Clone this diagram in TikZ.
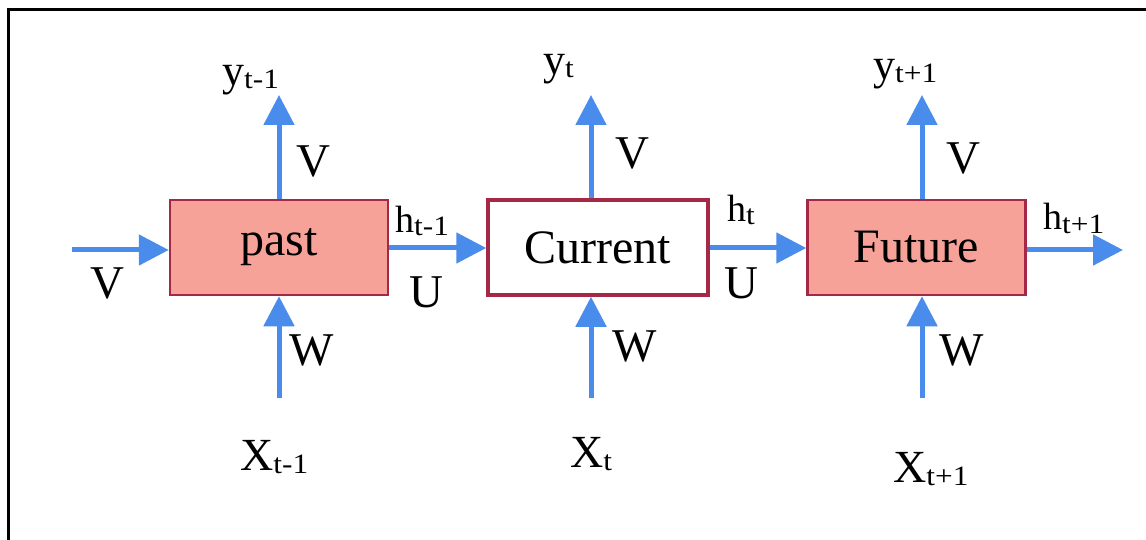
\documentclass[tikz,border=0pt]{standalone}
\usepackage{fontspec}
\usepackage{graphicx}
\setmainfont{Liberation Serif}
\usetikzlibrary{arrows.meta}
\definecolor{arrblue}{RGB}{74,140,235}
\definecolor{boxred}{RGB}{165,40,70}
\definecolor{boxfill}{RGB}{247,162,152}
\newcommand{\lsub}[1]{{\fontsize{28}{28}\selectfont\raisebox{-3pt}{\scalebox{1.12}[1]{#1}}}}
\begin{document}
\begin{tikzpicture}[x=1pt,y=-1pt,
  arr/.style={draw=arrblue, line width=5pt, -{Triangle[length=30pt,width=30pt]}},
  cell/.style={draw=boxred, line width=2.5pt, minimum width=218pt, minimum height=95pt, inner sep=0pt, font=\fontsize{48}{52}\selectfont},
  lbl/.style={inner sep=0pt, font=\fontsize{47}{50}\selectfont},
  sublbl/.style={inner sep=0pt, anchor=base west, font=\fontsize{44}{48}\selectfont}]
\useasboundingbox (0,0) rectangle (1146,540);
\fill[white] (0,0) rectangle (1146,540);
\draw[line width=3pt, black] (8,540) -- (8,9.5) -- (1146,9.5);

% boxes
\node[cell, fill=boxfill] (past) at (279,247.5) {past};
\node[cell, fill=white, line width=3.5pt, minimum width=220pt] (cur) at (598,247.5) {Current};
\node[cell, fill=boxfill] (fut) at (916.5,247.5) {Future};

% coordinates
\coordinate (ytip1) at (279,95);
\coordinate (ytip2) at (591,95);
\coordinate (ytip3) at (922,95);
\coordinate (xbot1) at (279,398);
\coordinate (xbot2) at (591,398);
\coordinate (xbot3) at (922,398);
\coordinate (inl) at (72,250);
\coordinate (outr) at (1123,250);

% arrows
\draw[arr] (past.north -| ytip1) -- (ytip1);
\draw[arr] (cur.north -| ytip2) -- (ytip2);
\draw[arr] (fut.north -| ytip3) -- (ytip3);
\draw[arr] (xbot1) -- (past.south -| xbot1);
\draw[arr] (xbot2) -- (cur.south -| xbot2);
\draw[arr] (xbot3) -- (fut.south -| xbot3);
\draw[arr] (inl) -- (inl -| past.west);
\draw[arr] (past.east |- 0,248) -- (cur.west |- 0,248);
\draw[arr] (cur.east |- 0,248) -- (fut.west |- 0,248);
\draw[arr] (fut.east |- outr) -- (outr);

% output labels
\node[sublbl] (y1) at (222,86) {y\lsub{t-1}};
\node[sublbl] (y2) at (543,75) {y\lsub{t}};
\node[sublbl] (y3) at (873,80) {y\lsub{t+1}};
% hidden labels
\node[sublbl, font=\fontsize{38}{42}\selectfont] (h1) at (395,233) {h\lsub{t-1}};
\node[sublbl, font=\fontsize{38}{42}\selectfont] (h2) at (727,222) {h\lsub{t}};
\node[sublbl, font=\fontsize{38}{42}\selectfont] (h3) at (1043,230) {h\lsub{t+1}};
% input labels
\node[sublbl, font=\fontsize{46}{50}\selectfont] (x1) at (240,470) {X\lsub{t-1}};
\node[sublbl, font=\fontsize{46}{50}\selectfont] (x2) at (570,467) {X\lsub{t}};
\node[sublbl, font=\fontsize{46}{50}\selectfont] (x3) at (893,482) {X\lsub{t+1}};
% weight labels
\node[lbl] (v1) at (313,161) {V};
\node[lbl] (v2) at (632,153) {V};
\node[lbl] (v3) at (963,158) {V};
\node[lbl] (v0) at (107,283) {V};
\node[lbl] (w1) at (312,350) {W};
\node[lbl] (w2) at (635,346) {W};
\node[lbl] (w3) at (962,350) {W};
\node[lbl] (u1) at (426,292) {U};
\node[lbl] (u2) at (741,283) {U};
\end{tikzpicture}
\end{document}
